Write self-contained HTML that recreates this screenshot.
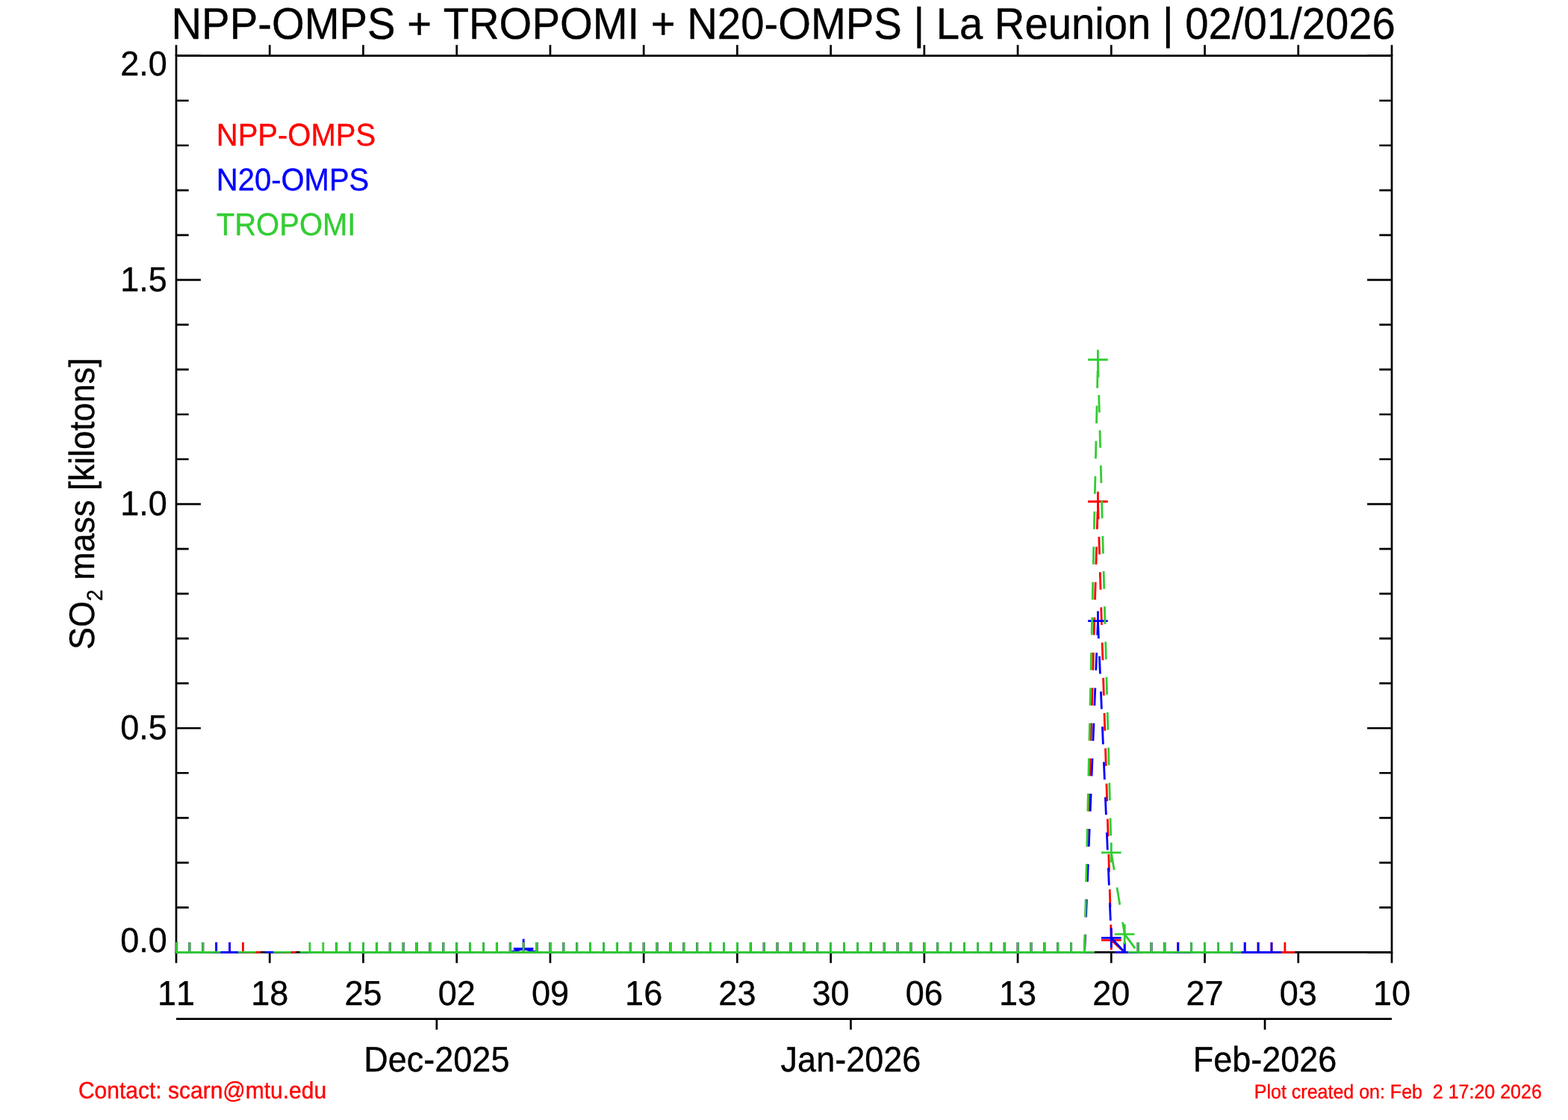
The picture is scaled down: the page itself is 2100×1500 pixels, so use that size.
<!DOCTYPE html>
<html lang="en"><head><meta charset="utf-8">
<title>NPP-OMPS + TROPOMI + N20-OMPS | La Reunion | 02/01/2026</title>
<style>
html,body{margin:0;padding:0;background:#fff;}
body{width:2100px;height:1500px;overflow:hidden;}
svg{display:block;}
text{font-family:'Liberation Sans', sans-serif;font-kerning:none;font-variant-ligatures:none;font-feature-settings:"kern" 0,"liga" 0;text-rendering:geometricPrecision;stroke-width:0.35px;stroke-linejoin:round;}
.ax{stroke:#000;stroke-width:2.7;fill:none;}
.d{fill:none;stroke-width:2.8;stroke-linecap:butt;stroke-dasharray:23.62 23.62;}
.m{fill:none;stroke-width:2.8;stroke-linecap:butt;}
</style></head><body>
<svg width="2100" height="1500" viewBox="0 0 2100 1500" role="img" aria-label="SO2 mass time series, La Reunion">
<rect width="2100" height="1500" fill="#ffffff"/>
<defs><clipPath id="pc"><rect x="234.55" y="73.25" width="1630.9" height="1203.6"/></clipPath></defs>
<path class="ax" d="M236 1275.4H1864"/>
<path class="ax" d="M236 1275.4V1289.85M361.23 1275.4V1289.85M486.46 1275.4V1289.85M611.69 1275.4V1289.85M736.92 1275.4V1289.85M862.15 1275.4V1289.85M987.38 1275.4V1289.85M1112.62 1275.4V1289.85M1237.85 1275.4V1289.85M1363.08 1275.4V1289.85M1488.31 1275.4V1289.85M1613.54 1275.4V1289.85M1738.77 1275.4V1289.85M1864 1275.4V1289.85"/>
<path class="ax" d="M236 74.7H1864"/>
<path class="ax" d="M236 74.7V60.25M361.23 74.7V60.25M486.46 74.7V60.25M611.69 74.7V60.25M736.92 74.7V60.25M862.15 74.7V60.25M987.38 74.7V60.25M1112.62 74.7V60.25M1237.85 74.7V60.25M1363.08 74.7V60.25M1488.31 74.7V60.25M1613.54 74.7V60.25M1738.77 74.7V60.25M1864 74.7V60.25"/>
<path class="ax" stroke-linecap="square" d="M236 74.7V1275.4"/>
<path class="ax" d="M236 1275.4h32.9M236 1215.37h16.7M236 1155.33h16.7M236 1095.3h16.7M236 1035.26h16.7M236 975.23h32.9M236 915.19h16.7M236 855.15h16.7M236 795.12h16.7M236 735.09h16.7M236 675.05h32.9M236 615.01h16.7M236 554.98h16.7M236 494.95h16.7M236 434.91h16.7M236 374.88h32.9M236 314.84h16.7M236 254.8h16.7M236 194.77h16.7M236 134.73h16.7M236 74.7h32.9"/>
<path class="ax" stroke-linecap="square" d="M1864 74.7V1275.4"/>
<path class="ax" d="M1864 1275.4h-32.9M1864 1215.37h-16.7M1864 1155.33h-16.7M1864 1095.3h-16.7M1864 1035.26h-16.7M1864 975.23h-32.9M1864 915.19h-16.7M1864 855.15h-16.7M1864 795.12h-16.7M1864 735.09h-16.7M1864 675.05h-32.9M1864 615.01h-16.7M1864 554.98h-16.7M1864 494.95h-16.7M1864 434.91h-16.7M1864 374.88h-32.9M1864 314.84h-16.7M1864 254.8h-16.7M1864 194.77h-16.7M1864 134.73h-16.7M1864 74.7h-32.9"/>
<path class="ax" d="M236 1364.65H1864"/>
<path class="ax" d="M584.86 1364.65V1379.1M1139.45 1364.65V1379.1M1694.04 1364.65V1379.1"/>
<g stroke="#ff0000" clip-path="url(#pc)">
<g class="d">
<path d="M236 1275.4L253.89 1275.4"/>
<path d="M253.89 1275.4L271.78 1275.4"/>
<path d="M271.78 1275.4L289.67 1275.4"/>
<path d="M289.67 1275.4L307.56 1275.4"/>
<path d="M307.56 1275.4L325.45 1275.4"/>
<path d="M325.45 1275.4L450.68 1275.4"/>
<path d="M450.68 1275.4L468.57 1275.4"/>
<path d="M468.57 1275.4L486.46 1275.4"/>
<path d="M486.46 1275.4L504.35 1275.4"/>
<path d="M504.35 1275.4L522.24 1275.4"/>
<path d="M522.24 1275.4L540.13 1275.4"/>
<path d="M540.13 1275.4L558.02 1275.4"/>
<path d="M558.02 1275.4L575.91 1275.4"/>
<path d="M575.91 1275.4L593.8 1275.4"/>
<path d="M593.8 1275.4L611.69 1275.4"/>
<path d="M611.69 1275.4L629.58 1275.4"/>
<path d="M629.58 1275.4L647.47 1275.4"/>
<path d="M647.47 1275.4L665.36 1275.4"/>
<path d="M665.36 1275.4L683.25 1275.4"/>
<path d="M683.25 1275.4L701.14 1275.4"/>
<path d="M701.14 1275.4L719.03 1275.4"/>
<path d="M719.03 1275.4L736.92 1275.4"/>
<path d="M736.92 1275.4L754.81 1275.4"/>
<path d="M754.81 1275.4L772.7 1275.4"/>
<path d="M772.7 1275.4L790.59 1275.4"/>
<path d="M790.59 1275.4L808.48 1275.4"/>
<path d="M808.48 1275.4L826.37 1275.4"/>
<path d="M826.37 1275.4L844.26 1275.4"/>
<path d="M844.26 1275.4L862.15 1275.4"/>
<path d="M862.15 1275.4L880.04 1275.4"/>
<path d="M880.04 1275.4L897.93 1275.4"/>
<path d="M897.93 1275.4L915.82 1275.4"/>
<path d="M915.82 1275.4L933.71 1275.4"/>
<path d="M933.71 1275.4L951.6 1275.4"/>
<path d="M951.6 1275.4L969.49 1275.4"/>
<path d="M969.49 1275.4L987.38 1275.4"/>
<path d="M987.38 1275.4L1005.27 1275.4"/>
<path d="M1005.27 1275.4L1023.16 1275.4"/>
<path d="M1023.16 1275.4L1041.05 1275.4"/>
<path d="M1041.05 1275.4L1058.95 1275.4"/>
<path d="M1058.95 1275.4L1076.84 1275.4"/>
<path d="M1076.84 1275.4L1094.73 1275.4"/>
<path d="M1094.73 1275.4L1112.62 1275.4"/>
<path d="M1112.62 1275.4L1130.51 1275.4"/>
<path d="M1130.51 1275.4L1148.4 1275.4"/>
<path d="M1148.4 1275.4L1166.29 1275.4"/>
<path d="M1166.29 1275.4L1184.18 1275.4"/>
<path d="M1184.18 1275.4L1202.07 1275.4"/>
<path d="M1202.07 1275.4L1219.96 1275.4"/>
<path d="M1219.96 1275.4L1237.85 1275.4"/>
<path d="M1237.85 1275.4L1255.74 1275.4"/>
<path d="M1255.74 1275.4L1273.63 1275.4"/>
<path d="M1273.63 1275.4L1291.52 1275.4"/>
<path d="M1291.52 1275.4L1309.41 1275.4"/>
<path d="M1309.41 1275.4L1327.3 1275.4"/>
<path d="M1327.3 1275.4L1345.19 1275.4"/>
<path d="M1345.19 1275.4L1363.08 1275.4"/>
<path d="M1363.08 1275.4L1380.97 1275.4"/>
<path d="M1380.97 1275.4L1398.86 1275.4"/>
<path d="M1398.86 1275.4L1416.75 1275.4"/>
<path d="M1416.75 1275.4L1434.64 1275.4"/>
<path d="M1434.64 1275.4L1452.53 1275.4"/>
<path d="M1452.53 1275.4L1470.42 671.75"/>
<path d="M1470.42 671.75L1488.31 1259.07"/>
<path d="M1488.31 1259.07L1506.2 1275.4"/>
<path d="M1506.2 1275.4L1524.09 1275.4"/>
<path d="M1524.09 1275.4L1541.98 1275.4"/>
<path d="M1541.98 1275.4L1559.87 1275.4"/>
<path d="M1559.87 1275.4L1577.76 1275.4"/>
<path d="M1577.76 1275.4L1595.65 1275.4"/>
<path d="M1595.65 1275.4L1613.54 1275.4"/>
<path d="M1613.54 1275.4L1631.43 1275.4"/>
<path d="M1631.43 1275.4L1649.32 1275.4"/>
<path d="M1649.32 1275.4L1667.21 1275.4"/>
<path d="M1667.21 1275.4L1685.1 1275.4"/>
<path d="M1685.1 1275.4L1702.99 1275.4"/>
<path d="M1702.99 1275.4L1720.88 1275.4"/>
</g><g class="m">
<path d="M222.7 1275.4h26.6M236 1262.1v26.6"/>
<path d="M240.59 1275.4h26.6M253.89 1262.1v26.6"/>
<path d="M258.48 1275.4h26.6M271.78 1262.1v26.6"/>
<path d="M276.37 1275.4h26.6M289.67 1262.1v26.6"/>
<path d="M294.26 1275.4h26.6M307.56 1262.1v26.6"/>
<path d="M312.15 1275.4h26.6M325.45 1262.1v26.6"/>
<path d="M437.38 1275.4h26.6M450.68 1262.1v26.6"/>
<path d="M455.27 1275.4h26.6M468.57 1262.1v26.6"/>
<path d="M473.16 1275.4h26.6M486.46 1262.1v26.6"/>
<path d="M491.05 1275.4h26.6M504.35 1262.1v26.6"/>
<path d="M508.94 1275.4h26.6M522.24 1262.1v26.6"/>
<path d="M526.83 1275.4h26.6M540.13 1262.1v26.6"/>
<path d="M544.72 1275.4h26.6M558.02 1262.1v26.6"/>
<path d="M562.61 1275.4h26.6M575.91 1262.1v26.6"/>
<path d="M580.5 1275.4h26.6M593.8 1262.1v26.6"/>
<path d="M598.39 1275.4h26.6M611.69 1262.1v26.6"/>
<path d="M616.28 1275.4h26.6M629.58 1262.1v26.6"/>
<path d="M634.17 1275.4h26.6M647.47 1262.1v26.6"/>
<path d="M652.06 1275.4h26.6M665.36 1262.1v26.6"/>
<path d="M669.95 1275.4h26.6M683.25 1262.1v26.6"/>
<path d="M687.84 1275.4h26.6M701.14 1262.1v26.6"/>
<path d="M705.73 1275.4h26.6M719.03 1262.1v26.6"/>
<path d="M723.62 1275.4h26.6M736.92 1262.1v26.6"/>
<path d="M741.51 1275.4h26.6M754.81 1262.1v26.6"/>
<path d="M759.4 1275.4h26.6M772.7 1262.1v26.6"/>
<path d="M777.29 1275.4h26.6M790.59 1262.1v26.6"/>
<path d="M795.18 1275.4h26.6M808.48 1262.1v26.6"/>
<path d="M813.07 1275.4h26.6M826.37 1262.1v26.6"/>
<path d="M830.96 1275.4h26.6M844.26 1262.1v26.6"/>
<path d="M848.85 1275.4h26.6M862.15 1262.1v26.6"/>
<path d="M866.74 1275.4h26.6M880.04 1262.1v26.6"/>
<path d="M884.63 1275.4h26.6M897.93 1262.1v26.6"/>
<path d="M902.52 1275.4h26.6M915.82 1262.1v26.6"/>
<path d="M920.41 1275.4h26.6M933.71 1262.1v26.6"/>
<path d="M938.3 1275.4h26.6M951.6 1262.1v26.6"/>
<path d="M956.19 1275.4h26.6M969.49 1262.1v26.6"/>
<path d="M974.08 1275.4h26.6M987.38 1262.1v26.6"/>
<path d="M991.97 1275.4h26.6M1005.27 1262.1v26.6"/>
<path d="M1009.86 1275.4h26.6M1023.16 1262.1v26.6"/>
<path d="M1027.75 1275.4h26.6M1041.05 1262.1v26.6"/>
<path d="M1045.65 1275.4h26.6M1058.95 1262.1v26.6"/>
<path d="M1063.54 1275.4h26.6M1076.84 1262.1v26.6"/>
<path d="M1081.43 1275.4h26.6M1094.73 1262.1v26.6"/>
<path d="M1099.32 1275.4h26.6M1112.62 1262.1v26.6"/>
<path d="M1117.21 1275.4h26.6M1130.51 1262.1v26.6"/>
<path d="M1135.1 1275.4h26.6M1148.4 1262.1v26.6"/>
<path d="M1152.99 1275.4h26.6M1166.29 1262.1v26.6"/>
<path d="M1170.88 1275.4h26.6M1184.18 1262.1v26.6"/>
<path d="M1188.77 1275.4h26.6M1202.07 1262.1v26.6"/>
<path d="M1206.66 1275.4h26.6M1219.96 1262.1v26.6"/>
<path d="M1224.55 1275.4h26.6M1237.85 1262.1v26.6"/>
<path d="M1242.44 1275.4h26.6M1255.74 1262.1v26.6"/>
<path d="M1260.33 1275.4h26.6M1273.63 1262.1v26.6"/>
<path d="M1278.22 1275.4h26.6M1291.52 1262.1v26.6"/>
<path d="M1296.11 1275.4h26.6M1309.41 1262.1v26.6"/>
<path d="M1314 1275.4h26.6M1327.3 1262.1v26.6"/>
<path d="M1331.89 1275.4h26.6M1345.19 1262.1v26.6"/>
<path d="M1349.78 1275.4h26.6M1363.08 1262.1v26.6"/>
<path d="M1367.67 1275.4h26.6M1380.97 1262.1v26.6"/>
<path d="M1385.56 1275.4h26.6M1398.86 1262.1v26.6"/>
<path d="M1403.45 1275.4h26.6M1416.75 1262.1v26.6"/>
<path d="M1421.34 1275.4h26.6M1434.64 1262.1v26.6"/>
<path d="M1439.23 1275.4h26.6M1452.53 1262.1v26.6"/>
<path d="M1457.12 671.75h26.6M1470.42 658.45v26.6"/>
<path d="M1475.01 1259.07h26.6M1488.31 1245.77v26.6"/>
<path d="M1492.9 1275.4h26.6M1506.2 1262.1v26.6"/>
<path d="M1510.79 1275.4h26.6M1524.09 1262.1v26.6"/>
<path d="M1528.68 1275.4h26.6M1541.98 1262.1v26.6"/>
<path d="M1546.57 1275.4h26.6M1559.87 1262.1v26.6"/>
<path d="M1564.46 1275.4h26.6M1577.76 1262.1v26.6"/>
<path d="M1582.35 1275.4h26.6M1595.65 1262.1v26.6"/>
<path d="M1600.24 1275.4h26.6M1613.54 1262.1v26.6"/>
<path d="M1618.13 1275.4h26.6M1631.43 1262.1v26.6"/>
<path d="M1636.02 1275.4h26.6M1649.32 1262.1v26.6"/>
<path d="M1653.91 1275.4h26.6M1667.21 1262.1v26.6"/>
<path d="M1671.8 1275.4h26.6M1685.1 1262.1v26.6"/>
<path d="M1689.69 1275.4h26.6M1702.99 1262.1v26.6"/>
<path d="M1707.58 1275.4h26.6M1720.88 1262.1v26.6"/>
</g></g>
<g stroke="#0000ff" clip-path="url(#pc)">
<g class="d">
<path d="M236 1275.4L253.89 1275.4"/>
<path d="M253.89 1275.4L271.78 1275.4"/>
<path d="M271.78 1275.4L289.67 1275.4"/>
<path d="M289.67 1275.4L307.56 1275.4"/>
<path d="M307.56 1275.4L450.68 1275.4"/>
<path d="M450.68 1275.4L468.57 1275.4"/>
<path d="M468.57 1275.4L486.46 1275.4"/>
<path d="M486.46 1275.4L504.35 1275.4"/>
<path d="M504.35 1275.4L522.24 1275.4"/>
<path d="M522.24 1275.4L540.13 1275.4"/>
<path d="M540.13 1275.4L558.02 1275.4"/>
<path d="M558.02 1275.4L575.91 1275.4"/>
<path d="M575.91 1275.4L593.8 1275.4"/>
<path d="M593.8 1275.4L611.69 1275.4"/>
<path d="M611.69 1275.4L629.58 1275.4"/>
<path d="M629.58 1275.4L647.47 1275.4"/>
<path d="M647.47 1275.4L665.36 1275.4"/>
<path d="M665.36 1275.4L683.25 1275.4"/>
<path d="M683.25 1275.4L701.14 1270.72"/>
<path d="M701.14 1270.72L719.03 1275.4"/>
<path d="M719.03 1275.4L736.92 1275.4"/>
<path d="M736.92 1275.4L754.81 1275.4"/>
<path d="M754.81 1275.4L772.7 1275.4"/>
<path d="M772.7 1275.4L790.59 1275.4"/>
<path d="M790.59 1275.4L808.48 1275.4"/>
<path d="M808.48 1275.4L826.37 1275.4"/>
<path d="M826.37 1275.4L844.26 1275.4"/>
<path d="M844.26 1275.4L862.15 1275.4"/>
<path d="M862.15 1275.4L880.04 1275.4"/>
<path d="M880.04 1275.4L897.93 1275.4"/>
<path d="M897.93 1275.4L915.82 1275.4"/>
<path d="M915.82 1275.4L933.71 1275.4"/>
<path d="M933.71 1275.4L951.6 1275.4"/>
<path d="M951.6 1275.4L969.49 1275.4"/>
<path d="M969.49 1275.4L987.38 1275.4"/>
<path d="M987.38 1275.4L1005.27 1275.4"/>
<path d="M1005.27 1275.4L1023.16 1275.4"/>
<path d="M1023.16 1275.4L1041.05 1275.4"/>
<path d="M1041.05 1275.4L1058.95 1275.4"/>
<path d="M1058.95 1275.4L1076.84 1275.4"/>
<path d="M1076.84 1275.4L1094.73 1275.4"/>
<path d="M1094.73 1275.4L1112.62 1275.4"/>
<path d="M1112.62 1275.4L1130.51 1275.4"/>
<path d="M1130.51 1275.4L1148.4 1275.4"/>
<path d="M1148.4 1275.4L1166.29 1275.4"/>
<path d="M1166.29 1275.4L1184.18 1275.4"/>
<path d="M1184.18 1275.4L1202.07 1275.4"/>
<path d="M1202.07 1275.4L1219.96 1275.4"/>
<path d="M1219.96 1275.4L1237.85 1275.4"/>
<path d="M1237.85 1275.4L1255.74 1275.4"/>
<path d="M1255.74 1275.4L1273.63 1275.4"/>
<path d="M1273.63 1275.4L1291.52 1275.4"/>
<path d="M1291.52 1275.4L1309.41 1275.4"/>
<path d="M1309.41 1275.4L1327.3 1275.4"/>
<path d="M1327.3 1275.4L1345.19 1275.4"/>
<path d="M1345.19 1275.4L1363.08 1275.4"/>
<path d="M1363.08 1275.4L1380.97 1275.4"/>
<path d="M1380.97 1275.4L1398.86 1275.4"/>
<path d="M1398.86 1275.4L1416.75 1275.4"/>
<path d="M1416.75 1275.4L1434.64 1275.4"/>
<path d="M1434.64 1275.4L1452.53 1275.4"/>
<path d="M1452.53 1275.4L1470.42 831.68"/>
<path d="M1470.42 831.68L1488.31 1256.07"/>
<path d="M1488.31 1256.07L1506.2 1275.4"/>
<path d="M1506.2 1275.4L1524.09 1275.4"/>
<path d="M1524.09 1275.4L1541.98 1275.4"/>
<path d="M1541.98 1275.4L1559.87 1275.4"/>
<path d="M1559.87 1275.4L1577.76 1275.4"/>
<path d="M1577.76 1275.4L1595.65 1275.4"/>
<path d="M1595.65 1275.4L1613.54 1275.4"/>
<path d="M1613.54 1275.4L1631.43 1275.4"/>
<path d="M1631.43 1275.4L1649.32 1275.4"/>
<path d="M1649.32 1275.4L1667.21 1275.4"/>
<path d="M1667.21 1275.4L1685.1 1275.4"/>
<path d="M1685.1 1275.4L1702.99 1275.4"/>
</g><g class="m">
<path d="M222.7 1275.4h26.6M236 1262.1v26.6"/>
<path d="M240.59 1275.4h26.6M253.89 1262.1v26.6"/>
<path d="M258.48 1275.4h26.6M271.78 1262.1v26.6"/>
<path d="M276.37 1275.4h26.6M289.67 1262.1v26.6"/>
<path d="M294.26 1275.4h26.6M307.56 1262.1v26.6"/>
<path d="M437.38 1275.4h26.6M450.68 1262.1v26.6"/>
<path d="M455.27 1275.4h26.6M468.57 1262.1v26.6"/>
<path d="M473.16 1275.4h26.6M486.46 1262.1v26.6"/>
<path d="M491.05 1275.4h26.6M504.35 1262.1v26.6"/>
<path d="M508.94 1275.4h26.6M522.24 1262.1v26.6"/>
<path d="M526.83 1275.4h26.6M540.13 1262.1v26.6"/>
<path d="M544.72 1275.4h26.6M558.02 1262.1v26.6"/>
<path d="M562.61 1275.4h26.6M575.91 1262.1v26.6"/>
<path d="M580.5 1275.4h26.6M593.8 1262.1v26.6"/>
<path d="M598.39 1275.4h26.6M611.69 1262.1v26.6"/>
<path d="M616.28 1275.4h26.6M629.58 1262.1v26.6"/>
<path d="M634.17 1275.4h26.6M647.47 1262.1v26.6"/>
<path d="M652.06 1275.4h26.6M665.36 1262.1v26.6"/>
<path d="M669.95 1275.4h26.6M683.25 1262.1v26.6"/>
<path d="M687.84 1270.72h26.6M701.14 1257.42v26.6"/>
<path d="M705.73 1275.4h26.6M719.03 1262.1v26.6"/>
<path d="M723.62 1275.4h26.6M736.92 1262.1v26.6"/>
<path d="M741.51 1275.4h26.6M754.81 1262.1v26.6"/>
<path d="M759.4 1275.4h26.6M772.7 1262.1v26.6"/>
<path d="M777.29 1275.4h26.6M790.59 1262.1v26.6"/>
<path d="M795.18 1275.4h26.6M808.48 1262.1v26.6"/>
<path d="M813.07 1275.4h26.6M826.37 1262.1v26.6"/>
<path d="M830.96 1275.4h26.6M844.26 1262.1v26.6"/>
<path d="M848.85 1275.4h26.6M862.15 1262.1v26.6"/>
<path d="M866.74 1275.4h26.6M880.04 1262.1v26.6"/>
<path d="M884.63 1275.4h26.6M897.93 1262.1v26.6"/>
<path d="M902.52 1275.4h26.6M915.82 1262.1v26.6"/>
<path d="M920.41 1275.4h26.6M933.71 1262.1v26.6"/>
<path d="M938.3 1275.4h26.6M951.6 1262.1v26.6"/>
<path d="M956.19 1275.4h26.6M969.49 1262.1v26.6"/>
<path d="M974.08 1275.4h26.6M987.38 1262.1v26.6"/>
<path d="M991.97 1275.4h26.6M1005.27 1262.1v26.6"/>
<path d="M1009.86 1275.4h26.6M1023.16 1262.1v26.6"/>
<path d="M1027.75 1275.4h26.6M1041.05 1262.1v26.6"/>
<path d="M1045.65 1275.4h26.6M1058.95 1262.1v26.6"/>
<path d="M1063.54 1275.4h26.6M1076.84 1262.1v26.6"/>
<path d="M1081.43 1275.4h26.6M1094.73 1262.1v26.6"/>
<path d="M1099.32 1275.4h26.6M1112.62 1262.1v26.6"/>
<path d="M1117.21 1275.4h26.6M1130.51 1262.1v26.6"/>
<path d="M1135.1 1275.4h26.6M1148.4 1262.1v26.6"/>
<path d="M1152.99 1275.4h26.6M1166.29 1262.1v26.6"/>
<path d="M1170.88 1275.4h26.6M1184.18 1262.1v26.6"/>
<path d="M1188.77 1275.4h26.6M1202.07 1262.1v26.6"/>
<path d="M1206.66 1275.4h26.6M1219.96 1262.1v26.6"/>
<path d="M1224.55 1275.4h26.6M1237.85 1262.1v26.6"/>
<path d="M1242.44 1275.4h26.6M1255.74 1262.1v26.6"/>
<path d="M1260.33 1275.4h26.6M1273.63 1262.1v26.6"/>
<path d="M1278.22 1275.4h26.6M1291.52 1262.1v26.6"/>
<path d="M1296.11 1275.4h26.6M1309.41 1262.1v26.6"/>
<path d="M1314 1275.4h26.6M1327.3 1262.1v26.6"/>
<path d="M1331.89 1275.4h26.6M1345.19 1262.1v26.6"/>
<path d="M1349.78 1275.4h26.6M1363.08 1262.1v26.6"/>
<path d="M1367.67 1275.4h26.6M1380.97 1262.1v26.6"/>
<path d="M1385.56 1275.4h26.6M1398.86 1262.1v26.6"/>
<path d="M1403.45 1275.4h26.6M1416.75 1262.1v26.6"/>
<path d="M1421.34 1275.4h26.6M1434.64 1262.1v26.6"/>
<path d="M1439.23 1275.4h26.6M1452.53 1262.1v26.6"/>
<path d="M1457.12 831.68h26.6M1470.42 818.38v26.6"/>
<path d="M1475.01 1256.07h26.6M1488.31 1242.77v26.6"/>
<path d="M1492.9 1275.4h26.6M1506.2 1262.1v26.6"/>
<path d="M1510.79 1275.4h26.6M1524.09 1262.1v26.6"/>
<path d="M1528.68 1275.4h26.6M1541.98 1262.1v26.6"/>
<path d="M1546.57 1275.4h26.6M1559.87 1262.1v26.6"/>
<path d="M1564.46 1275.4h26.6M1577.76 1262.1v26.6"/>
<path d="M1582.35 1275.4h26.6M1595.65 1262.1v26.6"/>
<path d="M1600.24 1275.4h26.6M1613.54 1262.1v26.6"/>
<path d="M1618.13 1275.4h26.6M1631.43 1262.1v26.6"/>
<path d="M1636.02 1275.4h26.6M1649.32 1262.1v26.6"/>
<path d="M1653.91 1275.4h26.6M1667.21 1262.1v26.6"/>
<path d="M1671.8 1275.4h26.6M1685.1 1262.1v26.6"/>
<path d="M1689.69 1275.4h26.6M1702.99 1262.1v26.6"/>
</g></g>
<g stroke="#32cd32" clip-path="url(#pc)">
<g class="d">
<path d="M236 1275.4L253.89 1275.4"/>
<path d="M253.89 1275.4L271.78 1275.4"/>
<path d="M271.78 1275.4L414.9 1275.4"/>
<path d="M414.9 1275.4L432.79 1275.4"/>
<path d="M432.79 1275.4L450.68 1275.4"/>
<path d="M450.68 1275.4L468.57 1275.4"/>
<path d="M468.57 1275.4L486.46 1275.4"/>
<path d="M486.46 1275.4L504.35 1275.4"/>
<path d="M504.35 1275.4L522.24 1275.4"/>
<path d="M522.24 1275.4L540.13 1275.4"/>
<path d="M540.13 1275.4L558.02 1275.4"/>
<path d="M558.02 1275.4L575.91 1275.4"/>
<path d="M575.91 1275.4L593.8 1275.4"/>
<path d="M593.8 1275.4L611.69 1275.4"/>
<path d="M611.69 1275.4L629.58 1275.4"/>
<path d="M629.58 1275.4L647.47 1275.4"/>
<path d="M647.47 1275.4L665.36 1275.4"/>
<path d="M665.36 1275.4L683.25 1275.4"/>
<path d="M683.25 1275.4L701.14 1275.4"/>
<path d="M701.14 1275.4L719.03 1275.4"/>
<path d="M719.03 1275.4L736.92 1275.4"/>
<path d="M736.92 1275.4L754.81 1275.4"/>
<path d="M754.81 1275.4L772.7 1275.4"/>
<path d="M772.7 1275.4L790.59 1275.4"/>
<path d="M790.59 1275.4L808.48 1275.4"/>
<path d="M808.48 1275.4L826.37 1275.4"/>
<path d="M826.37 1275.4L844.26 1275.4"/>
<path d="M844.26 1275.4L862.15 1275.4"/>
<path d="M862.15 1275.4L880.04 1275.4"/>
<path d="M880.04 1275.4L897.93 1275.4"/>
<path d="M897.93 1275.4L915.82 1275.4"/>
<path d="M915.82 1275.4L933.71 1275.4"/>
<path d="M933.71 1275.4L951.6 1275.4"/>
<path d="M951.6 1275.4L969.49 1275.4"/>
<path d="M969.49 1275.4L987.38 1275.4"/>
<path d="M987.38 1275.4L1005.27 1275.4"/>
<path d="M1005.27 1275.4L1023.16 1275.4"/>
<path d="M1023.16 1275.4L1041.05 1275.4"/>
<path d="M1041.05 1275.4L1058.95 1275.4"/>
<path d="M1058.95 1275.4L1076.84 1275.4"/>
<path d="M1076.84 1275.4L1094.73 1275.4"/>
<path d="M1094.73 1275.4L1112.62 1275.4"/>
<path d="M1112.62 1275.4L1130.51 1275.4"/>
<path d="M1130.51 1275.4L1148.4 1275.4"/>
<path d="M1148.4 1275.4L1166.29 1275.4"/>
<path d="M1166.29 1275.4L1184.18 1275.4"/>
<path d="M1184.18 1275.4L1202.07 1275.4"/>
<path d="M1202.07 1275.4L1219.96 1275.4"/>
<path d="M1219.96 1275.4L1237.85 1275.4"/>
<path d="M1237.85 1275.4L1255.74 1275.4"/>
<path d="M1255.74 1275.4L1273.63 1275.4"/>
<path d="M1273.63 1275.4L1291.52 1275.4"/>
<path d="M1291.52 1275.4L1309.41 1275.4"/>
<path d="M1309.41 1275.4L1327.3 1275.4"/>
<path d="M1327.3 1275.4L1345.19 1275.4"/>
<path d="M1345.19 1275.4L1363.08 1275.4"/>
<path d="M1363.08 1275.4L1380.97 1275.4"/>
<path d="M1380.97 1275.4L1398.86 1275.4"/>
<path d="M1398.86 1275.4L1416.75 1275.4"/>
<path d="M1416.75 1275.4L1434.64 1275.4"/>
<path d="M1434.64 1275.4L1452.53 1275.4"/>
<path d="M1452.53 1275.4L1470.42 481.74"/>
<path d="M1470.42 481.74L1488.31 1141.82"/>
<path d="M1488.31 1141.82L1506.2 1251.09"/>
<path d="M1506.2 1251.09L1524.09 1275.4"/>
<path d="M1524.09 1275.4L1541.98 1275.4"/>
<path d="M1541.98 1275.4L1559.87 1275.4"/>
<path d="M1559.87 1275.4L1595.65 1275.4"/>
<path d="M1595.65 1275.4L1613.54 1275.4"/>
<path d="M1613.54 1275.4L1631.43 1275.4"/>
<path d="M1631.43 1275.4L1649.32 1275.4"/>
</g><g class="m">
<path d="M222.7 1275.4h26.6M236 1262.1v26.6"/>
<path d="M240.59 1275.4h26.6M253.89 1262.1v26.6"/>
<path d="M258.48 1275.4h26.6M271.78 1262.1v26.6"/>
<path d="M401.6 1275.4h26.6M414.9 1262.1v26.6"/>
<path d="M419.49 1275.4h26.6M432.79 1262.1v26.6"/>
<path d="M437.38 1275.4h26.6M450.68 1262.1v26.6"/>
<path d="M455.27 1275.4h26.6M468.57 1262.1v26.6"/>
<path d="M473.16 1275.4h26.6M486.46 1262.1v26.6"/>
<path d="M491.05 1275.4h26.6M504.35 1262.1v26.6"/>
<path d="M508.94 1275.4h26.6M522.24 1262.1v26.6"/>
<path d="M526.83 1275.4h26.6M540.13 1262.1v26.6"/>
<path d="M544.72 1275.4h26.6M558.02 1262.1v26.6"/>
<path d="M562.61 1275.4h26.6M575.91 1262.1v26.6"/>
<path d="M580.5 1275.4h26.6M593.8 1262.1v26.6"/>
<path d="M598.39 1275.4h26.6M611.69 1262.1v26.6"/>
<path d="M616.28 1275.4h26.6M629.58 1262.1v26.6"/>
<path d="M634.17 1275.4h26.6M647.47 1262.1v26.6"/>
<path d="M652.06 1275.4h26.6M665.36 1262.1v26.6"/>
<path d="M669.95 1275.4h26.6M683.25 1262.1v26.6"/>
<path d="M687.84 1275.4h26.6M701.14 1262.1v26.6"/>
<path d="M705.73 1275.4h26.6M719.03 1262.1v26.6"/>
<path d="M723.62 1275.4h26.6M736.92 1262.1v26.6"/>
<path d="M741.51 1275.4h26.6M754.81 1262.1v26.6"/>
<path d="M759.4 1275.4h26.6M772.7 1262.1v26.6"/>
<path d="M777.29 1275.4h26.6M790.59 1262.1v26.6"/>
<path d="M795.18 1275.4h26.6M808.48 1262.1v26.6"/>
<path d="M813.07 1275.4h26.6M826.37 1262.1v26.6"/>
<path d="M830.96 1275.4h26.6M844.26 1262.1v26.6"/>
<path d="M848.85 1275.4h26.6M862.15 1262.1v26.6"/>
<path d="M866.74 1275.4h26.6M880.04 1262.1v26.6"/>
<path d="M884.63 1275.4h26.6M897.93 1262.1v26.6"/>
<path d="M902.52 1275.4h26.6M915.82 1262.1v26.6"/>
<path d="M920.41 1275.4h26.6M933.71 1262.1v26.6"/>
<path d="M938.3 1275.4h26.6M951.6 1262.1v26.6"/>
<path d="M956.19 1275.4h26.6M969.49 1262.1v26.6"/>
<path d="M974.08 1275.4h26.6M987.38 1262.1v26.6"/>
<path d="M991.97 1275.4h26.6M1005.27 1262.1v26.6"/>
<path d="M1009.86 1275.4h26.6M1023.16 1262.1v26.6"/>
<path d="M1027.75 1275.4h26.6M1041.05 1262.1v26.6"/>
<path d="M1045.65 1275.4h26.6M1058.95 1262.1v26.6"/>
<path d="M1063.54 1275.4h26.6M1076.84 1262.1v26.6"/>
<path d="M1081.43 1275.4h26.6M1094.73 1262.1v26.6"/>
<path d="M1099.32 1275.4h26.6M1112.62 1262.1v26.6"/>
<path d="M1117.21 1275.4h26.6M1130.51 1262.1v26.6"/>
<path d="M1135.1 1275.4h26.6M1148.4 1262.1v26.6"/>
<path d="M1152.99 1275.4h26.6M1166.29 1262.1v26.6"/>
<path d="M1170.88 1275.4h26.6M1184.18 1262.1v26.6"/>
<path d="M1188.77 1275.4h26.6M1202.07 1262.1v26.6"/>
<path d="M1206.66 1275.4h26.6M1219.96 1262.1v26.6"/>
<path d="M1224.55 1275.4h26.6M1237.85 1262.1v26.6"/>
<path d="M1242.44 1275.4h26.6M1255.74 1262.1v26.6"/>
<path d="M1260.33 1275.4h26.6M1273.63 1262.1v26.6"/>
<path d="M1278.22 1275.4h26.6M1291.52 1262.1v26.6"/>
<path d="M1296.11 1275.4h26.6M1309.41 1262.1v26.6"/>
<path d="M1314 1275.4h26.6M1327.3 1262.1v26.6"/>
<path d="M1331.89 1275.4h26.6M1345.19 1262.1v26.6"/>
<path d="M1349.78 1275.4h26.6M1363.08 1262.1v26.6"/>
<path d="M1367.67 1275.4h26.6M1380.97 1262.1v26.6"/>
<path d="M1385.56 1275.4h26.6M1398.86 1262.1v26.6"/>
<path d="M1403.45 1275.4h26.6M1416.75 1262.1v26.6"/>
<path d="M1421.34 1275.4h26.6M1434.64 1262.1v26.6"/>
<path d="M1439.23 1275.4h26.6M1452.53 1262.1v26.6"/>
<path d="M1457.12 481.74h26.6M1470.42 468.44v26.6"/>
<path d="M1475.01 1141.82h26.6M1488.31 1128.52v26.6"/>
<path d="M1492.9 1251.09h26.6M1506.2 1237.79v26.6"/>
<path d="M1510.79 1275.4h26.6M1524.09 1262.1v26.6"/>
<path d="M1528.68 1275.4h26.6M1541.98 1262.1v26.6"/>
<path d="M1546.57 1275.4h26.6M1559.87 1262.1v26.6"/>
<path d="M1582.35 1275.4h26.6M1595.65 1262.1v26.6"/>
<path d="M1600.24 1275.4h26.6M1613.54 1262.1v26.6"/>
<path d="M1618.13 1275.4h26.6M1631.43 1262.1v26.6"/>
<path d="M1636.02 1275.4h26.6M1649.32 1262.1v26.6"/>
</g></g>
<text transform="translate(229.5 51.9) scale(1 1.055)" font-size="56.25" fill="#000" stroke="#000" text-anchor="start" xml:space="preserve">NPP-OMPS + TROPOMI + N20-OMPS | La Reunion | 02/01/2026</text>
<text transform="translate(223.9 100.9) scale(1 1.03)" font-size="45" fill="#000" stroke="#000" text-anchor="end" xml:space="preserve">2.0</text>
<text transform="translate(223.9 389.8) scale(1 1.03)" font-size="45" fill="#000" stroke="#000" text-anchor="end" xml:space="preserve">1.5</text>
<text transform="translate(223.9 689.9) scale(1 1.03)" font-size="45" fill="#000" stroke="#000" text-anchor="end" xml:space="preserve">1.0</text>
<text transform="translate(223.9 990.1) scale(1 1.03)" font-size="45" fill="#000" stroke="#000" text-anchor="end" xml:space="preserve">0.5</text>
<text transform="translate(223.9 1274.9) scale(1 1.03)" font-size="45" fill="#000" stroke="#000" text-anchor="end" xml:space="preserve">0.0</text>
<text transform="translate(236 1345.8) scale(1 1.03)" font-size="45" fill="#000" stroke="#000" text-anchor="middle" xml:space="preserve">11</text>
<text transform="translate(361.23 1345.8) scale(1 1.03)" font-size="45" fill="#000" stroke="#000" text-anchor="middle" xml:space="preserve">18</text>
<text transform="translate(486.46 1345.8) scale(1 1.03)" font-size="45" fill="#000" stroke="#000" text-anchor="middle" xml:space="preserve">25</text>
<text transform="translate(611.69 1345.8) scale(1 1.03)" font-size="45" fill="#000" stroke="#000" text-anchor="middle" xml:space="preserve">02</text>
<text transform="translate(736.92 1345.8) scale(1 1.03)" font-size="45" fill="#000" stroke="#000" text-anchor="middle" xml:space="preserve">09</text>
<text transform="translate(862.15 1345.8) scale(1 1.03)" font-size="45" fill="#000" stroke="#000" text-anchor="middle" xml:space="preserve">16</text>
<text transform="translate(987.38 1345.8) scale(1 1.03)" font-size="45" fill="#000" stroke="#000" text-anchor="middle" xml:space="preserve">23</text>
<text transform="translate(1112.62 1345.8) scale(1 1.03)" font-size="45" fill="#000" stroke="#000" text-anchor="middle" xml:space="preserve">30</text>
<text transform="translate(1237.85 1345.8) scale(1 1.03)" font-size="45" fill="#000" stroke="#000" text-anchor="middle" xml:space="preserve">06</text>
<text transform="translate(1363.08 1345.8) scale(1 1.03)" font-size="45" fill="#000" stroke="#000" text-anchor="middle" xml:space="preserve">13</text>
<text transform="translate(1488.31 1345.8) scale(1 1.03)" font-size="45" fill="#000" stroke="#000" text-anchor="middle" xml:space="preserve">20</text>
<text transform="translate(1613.54 1345.8) scale(1 1.03)" font-size="45" fill="#000" stroke="#000" text-anchor="middle" xml:space="preserve">27</text>
<text transform="translate(1738.77 1345.8) scale(1 1.03)" font-size="45" fill="#000" stroke="#000" text-anchor="middle" xml:space="preserve">03</text>
<text transform="translate(1864 1345.8) scale(1 1.03)" font-size="45" fill="#000" stroke="#000" text-anchor="middle" xml:space="preserve">10</text>
<text transform="translate(584.86 1434.9) scale(1 1.055)" font-size="45" fill="#000" stroke="#000" text-anchor="middle" xml:space="preserve">Dec-2025</text>
<text transform="translate(1139.45 1434.9) scale(1 1.055)" font-size="45" fill="#000" stroke="#000" text-anchor="middle" xml:space="preserve">Jan-2026</text>
<text transform="translate(1694.04 1434.9) scale(1 1.055)" font-size="45" fill="#000" stroke="#000" text-anchor="middle" xml:space="preserve">Feb-2026</text>
<text transform="translate(126 869.97) rotate(-90) scale(1 1.055)" font-size="45" fill="#000" stroke="#000" xml:space="preserve">SO<tspan font-size="27.9" dy="10.05">2</tspan><tspan dy="-10.05"> mass [kilotons]</tspan></text>
<text transform="translate(289.8 195) scale(1 1.055)" font-size="40" fill="#ff0000" stroke="#ff0000" text-anchor="start" xml:space="preserve">NPP-OMPS</text>
<text transform="translate(289.8 255) scale(1 1.055)" font-size="40" fill="#0000ff" stroke="#0000ff" text-anchor="start" xml:space="preserve">N20-OMPS</text>
<text transform="translate(289.8 314.9) scale(1 1.055)" font-size="40" fill="#32cd32" stroke="#32cd32" text-anchor="start" xml:space="preserve">TROPOMI</text>
<text transform="translate(104.9 1470.7) scale(1 1.055)" font-size="30" fill="#ff0000" stroke="#ff0000" text-anchor="start" xml:space="preserve">Contact: scarn@mtu.edu</text>
<text transform="translate(1679.8 1470.6) scale(1 1.055)" font-size="25" fill="#ff0000" stroke="#ff0000" text-anchor="start" xml:space="preserve">Plot created on: Feb  2 17:20 2026</text>
</svg></body></html>
